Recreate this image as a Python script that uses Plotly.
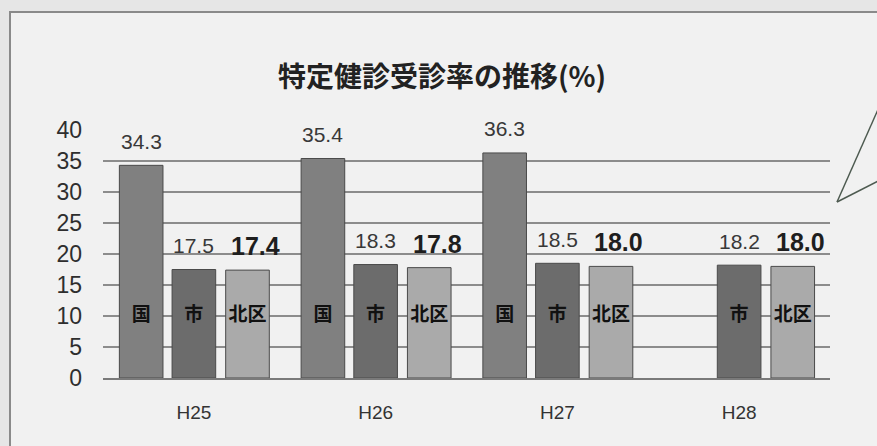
import plotly.graph_objects as go

years = ["H25", "H26", "H27", "H28"]
series_names = ["国", "市", "北区"]
kuni = [34.3, 35.4, 36.3, None]
shi = [17.5, 18.3, 18.5, 18.2]
kitaku = [17.4, 17.8, 18.0, 18.0]
y_ticks = [0, 5, 10, 15, 20, 25, 30, 35, 40]
title_text = "特定健診受診率の推移(%)"
inside_label_level = 10

series_values = [kuni, shi, kitaku]
colors = ["#808080", "#6c6c6c", "#aaaaaa"]
offsets = [-0.29, 0.0, 0.295]
bar_width = 0.24

JP = "Noto Sans CJK JP"
SANS = "Liberation Sans, Arial, sans-serif"

fig = go.Figure()
annotations = []
for name, vals, col, off in zip(series_names, series_values, colors, offsets):
    xs = [i + off for i in range(len(years))]
    fig.add_trace(go.Bar(
        x=xs, y=vals, width=bar_width, name=name,
        marker=dict(color=col, line=dict(color="#4a4a4a", width=1)),
        showlegend=False, hoverinfo="y",
    ))
    fig.add_trace(go.Scatter(
        x=[x for x, v in zip(xs, vals) if v is not None],
        y=[inside_label_level for v in vals if v is not None],
        mode="text", text=[name for v in vals if v is not None],
        textfont=dict(family=JP, size=19, color="#111111", weight="bold"),
        showlegend=False, hoverinfo="skip", cliponaxis=False,
    ))
    for x, v in zip(xs, vals):
        if v is None:
            continue
        bold = name == "北区"
        annotations.append(dict(
            x=x, y=v, xref="x", yref="y", text=f"{v:.1f}", showarrow=False,
            yshift=24, xshift=8 if bold else 0, yanchor="middle",
            font=dict(family=SANS, size=25 if bold else 21,
                      color="#1e1e1e" if bold else "#383838",
                      weight="bold" if bold else "normal"),
        ))

annotations.append(dict(
    text=title_text, xref="paper", yref="paper", x=(442 - 103) / 727,
    y=1 + (130 - 75) / 248, xanchor="center", yanchor="middle", showarrow=False,
    font=dict(family=JP, size=28, color="#222222", weight="bold"),
))

shapes = [
    # outer frame of the printed chart
    dict(type="rect", xref="paper", yref="paper",
         x0=(10 - 103) / 727, x1=(890 - 103) / 727,
         y0=(378 - 460) / 248, y1=1 + (130 - 12) / 248,
         line=dict(color="#8a8a8a", width=2), fillcolor="#f1f1f1", layer="below"),
    # callout lines
    dict(type="line", xref="paper", yref="paper",
         x0=(837 - 103) / 727, y0=(378 - 202) / 248,
         x1=(880 - 103) / 727, y1=(378 - 105) / 248,
         line=dict(color="#4d5a50", width=1.5)),
    dict(type="line", xref="paper", yref="paper",
         x0=(837 - 103) / 727, y0=(378 - 202) / 248,
         x1=(880 - 103) / 727, y1=(378 - 180) / 248,
         line=dict(color="#4d5a50", width=1.5)),
]

fig.update_layout(
    width=877, height=446,
    margin=dict(l=103, r=47, t=130, b=68),
    paper_bgcolor="#e6e6e6",
    plot_bgcolor="#e4e4e4",
    barmode="overlay",
    annotations=annotations,
    shapes=shapes,
    xaxis=dict(
        range=[-0.5, 3.5], tickvals=list(range(len(years))), ticktext=years,
        showgrid=False, zeroline=False, showline=True, linecolor="#7a7a7a", linewidth=2,
        tickfont=dict(family=SANS, size=19, color="#333333"),
        ticks="", ticklabelstandoff=16, fixedrange=True,
    ),
    yaxis=dict(
        range=[0, 40], tickvals=y_ticks, showgrid=True, gridcolor="#8c8c8c", gridwidth=2,
        zeroline=False, showline=False,
        tickfont=dict(family=SANS, size=23, color="#2e2e2e"),
        ticks="", ticklabelstandoff=20, fixedrange=True,
    ),
)

fig.write_html("out.html", config={"displayModeBar": False},
               post_script="document.body.style.margin='0px';")
